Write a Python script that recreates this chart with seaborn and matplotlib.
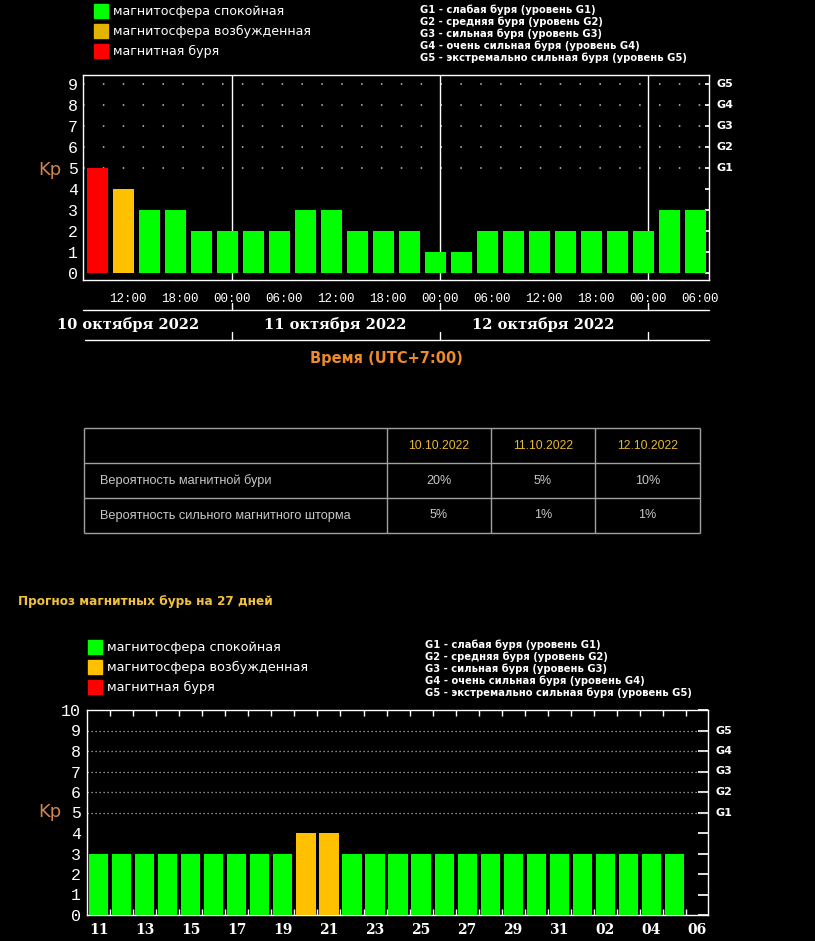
import numpy as np
import pandas as pd
import matplotlib.pyplot as plt
import matplotlib.transforms as mtransforms
from matplotlib.patches import Rectangle
import seaborn as sns

# 3-day Kp index, 3-hour slots (UTC+7)
top_days = ["10 октября 2022", "11 октября 2022", "12 октября 2022"]
top_times = ["09:00", "12:00", "15:00", "18:00", "21:00",
             "00:00", "03:00", "06:00", "09:00", "12:00", "15:00", "18:00", "21:00",
             "00:00", "03:00", "06:00", "09:00", "12:00", "15:00", "18:00", "21:00",
             "00:00", "03:00", "06:00"]
top_kp = [5, 4, 3, 3, 2, 2, 2, 2, 3, 3, 2, 2, 2, 1, 1, 2, 2, 2, 2, 2, 2, 2, 3, 3]

# 27-day forecast (no value for the last day)
fc_days = ["11", "12", "13", "14", "15", "16", "17", "18", "19", "20", "21",
           "22", "23", "24", "25", "26", "27", "28", "29", "30", "31",
           "01", "02", "03", "04", "05", "06"]
fc_kp = [3, 3, 3, 3, 3, 3, 3, 3, 3, 4, 4, 3, 3, 3, 3, 3, 3, 3, 3, 3, 3,
         3, 3, 3, 3, 3]

# probability table
prob_dates = ["10.10.2022", "11.10.2022", "12.10.2022"]
prob_rows = ["Вероятность магнитной бури", "Вероятность сильного магнитного шторма"]
prob_storm = ["20%", "5%", "10%"]
prob_severe = ["5%", "1%", "1%"]

legend_labels = ["магнитосфера спокойная", "магнитосфера возбужденная", "магнитная буря"]
g_levels = ["G1", "G2", "G3", "G4", "G5"]
g_desc = ["G1 - слабая буря (уровень G1)",
          "G2 - средняя буря (уровень G2)",
          "G3 - сильная буря (уровень G3)",
          "G4 - очень сильная буря (уровень G4)",
          "G5 - экстремально сильная буря (уровень G5)"]

palette = {"quiet": "#00ff00", "active": "#ffc000", "storm": "#ff0000"}


def kp_level(k):
    if k >= 5:
        return "storm"
    if k == 4:
        return "active"
    return "quiet"


sns.set_theme(style="dark", rc={
    "figure.facecolor": "black", "axes.facecolor": "black",
    "savefig.facecolor": "black", "axes.edgecolor": "white",
    "axes.grid": False, "text.color": "white",
    "xtick.color": "white", "ytick.color": "white",
})
plt.rcParams["font.family"] = ["DejaVu Sans"]

W, H = 815, 941
fig = plt.figure(figsize=(W / 100, H / 100), dpi=100)

# overlay in pixel coordinates for legends, table and captions
ov = fig.add_axes([0, 0, 1, 1])
ov.set_xlim(0, W)
ov.set_ylim(H, 0)
ov.axis("off")


def style_axes(ax):
    for sp in ax.spines.values():
        sp.set_color("white")
        sp.set_linewidth(1)
    ax.set_xlabel("")
    ax.set_ylabel("")


# ---------------- top chart: 3-day Kp ----------------
ax1 = fig.add_axes([83.3 / W, 1 - 280 / H, 626 / W, 205 / H])
df1 = pd.DataFrame({"slot": np.arange(len(top_kp)), "kp": top_kp})
df1["level"] = [kp_level(k) for k in top_kp]
sns.barplot(data=df1, x="slot", y="kp", hue="level", palette=palette,
            dodge=False, width=0.83, saturation=1, legend=False, ax=ax1,
            zorder=3, linewidth=0)
ax1.set_xlim(-0.546, 23.53)
ax1.set_ylim(-0.32, 9.44)
style_axes(ax1)

off = 0.16
xt = np.arange(len(top_times)) + off
ax1.set_xticks(xt[1::2])
ax1.set_xticklabels(top_times[1::2], fontfamily="Liberation Mono", fontsize=9)
ax1.set_xticks(xt[0::2], minor=True)
ax1.tick_params(axis="x", which="both", direction="out", length=4, width=1,
                color="white", labelcolor="white", pad=5)
ax1.set_yticks(range(10))
ax1.set_yticklabels([str(v) for v in range(10)], fontfamily="Liberation Mono", fontsize=12)
ax1.tick_params(axis="y", left=False, right=True, direction="in", length=3,
                color="white", labelcolor="white", pad=4)

for lvl in range(5, 10):
    ax1.axhline(lvl, color="#c8c8c8", lw=1.1, ls=(0, (1, 12)), zorder=0.8)

gtrans1 = mtransforms.blended_transform_factory(ax1.transAxes, ax1.transData)
for lvl, g in zip(range(5, 10), g_levels):
    ax1.text(1.011, lvl, g, transform=gtrans1, va="center", ha="left",
             color="white", fontsize=8, fontweight="bold")

day_idx = [i for i, t in enumerate(top_times) if t == "00:00"]
btrans = mtransforms.blended_transform_factory(ax1.transData, ax1.transAxes)
band1, band2 = -0.146, -0.293
for d in day_idx:
    ax1.axvline(d + off, color="white", lw=1, zorder=1)
    ax1.plot([d + off, d + off], [band1, band1 + 0.034], color="white", lw=1,
             transform=btrans, clip_on=False)
    ax1.plot([d + off, d + off], [band2, band2 + 0.039], color="white", lw=1,
             transform=btrans, clip_on=False)
ax1.plot([0, 1], [band1, band1], color="white", lw=1, transform=ax1.transAxes, clip_on=False)
ax1.plot([0.003, 1], [band2, band2], color="white", lw=1, transform=ax1.transAxes, clip_on=False)

day_centers = [day_idx[0] - 4, day_idx[0] + 4, day_idx[1] + 4]
for c, lab in zip(day_centers, top_days):
    ax1.text(c + off, -0.215, lab, transform=btrans, ha="center", va="center",
             color="white", fontsize=10.5, fontweight="bold", fontfamily="DejaVu Serif")

# ---------------- bottom chart: 27-day forecast ----------------
ax2 = fig.add_axes([86.7 / W, 1 - 915 / H, 621.6 / W, 205 / H])
df2 = pd.DataFrame({"day": fc_days[:len(fc_kp)], "kp": fc_kp})
df2["level"] = [kp_level(k) for k in fc_kp]
sns.barplot(data=df2, x="day", y="kp", hue="level", order=fc_days, palette=palette,
            dodge=False, width=0.83, saturation=1, legend=False, ax=ax2,
            zorder=3, linewidth=0)
ax2.set_xlim(-0.526, 26.48)
ax2.set_ylim(0, 10)
style_axes(ax2)

pos = np.arange(len(fc_days))
ax2.set_xticks(pos[0::2])
ax2.set_xticklabels(fc_days[0::2], fontfamily="DejaVu Serif", fontweight="bold", fontsize=10)
ax2.set_xticks(pos[:-1] + 0.5, minor=True)
ax2.tick_params(axis="x", which="major", length=0, labelcolor="white", pad=6)
ax2.tick_params(axis="x", which="minor", direction="in", top=True, bottom=True,
                length=4, width=1, color="white")
ax2.set_yticks(range(11))
ax2.set_yticklabels([str(v) for v in range(11)], fontfamily="Liberation Mono", fontsize=12)
ax2.tick_params(axis="y", left=False, right=True, direction="in", length=7,
                color="white", labelcolor="white", pad=4)

for lvl in range(5, 10):
    ax2.axhline(lvl, color="#bbbbbb", lw=0.9, ls=(0, (1, 2.2)), zorder=0.8)

gtrans2 = mtransforms.blended_transform_factory(ax2.transAxes, ax2.transData)
for lvl, g in zip(range(5, 10), g_levels):
    ax2.text(1.012, lvl, g, transform=gtrans2, va="center", ha="left",
             color="white", fontsize=8, fontweight="bold")

# ---------------- captions ----------------
ov.text(50, 170, "Kp", color="#d0864c", fontsize=13, ha="center", va="center")
ov.text(50, 812, "Kp", color="#d0864c", fontsize=13, ha="center", va="center")
ov.text(386, 358, "Время (UTC+7:00)", color="#ec8a2c", fontsize=10.5,
        fontweight="bold", ha="center", va="center")
ov.text(18, 602, "Прогноз магнитных бурь на 27 дней", color="#f0c040",
        fontsize=8.7, fontweight="bold", ha="left", va="center")


def draw_legend(x, y0, colors, size):
    for i, (lab, col) in enumerate(zip(legend_labels, colors)):
        yc = y0 + i * 20
        ov.add_patch(Rectangle((x, yc - 7), 14, 14, color=col))
        ov.text(x + 19, yc, lab, va="center", ha="left", color="white", fontsize=size)


def draw_glist(x, y0):
    for i, line in enumerate(g_desc):
        ov.text(x, y0 + i * 12, line, va="center", ha="left", color="white",
                fontsize=7.2, fontweight="bold")


draw_legend(94, 11, ["#00ff00", "#e0b400", "#ff0000"], 9.1)
draw_glist(420, 10)
draw_legend(88, 647, ["#00ff00", "#ffc000", "#ff0000"], 9.3)
draw_glist(425, 645)

# ---------------- probability table ----------------
col_x = [84, 387, 491, 595, 700]
row_y = [428, 463, 498, 533]
ov.hlines(row_y, col_x[0], col_x[-1], color="#a0a0a0", lw=1)
ov.vlines(col_x, row_y[0], row_y[-1], color="#a0a0a0", lw=1)
centers = [(col_x[i] + col_x[i + 1]) / 2 for i in range(1, 4)]
rmid = [(row_y[i] + row_y[i + 1]) / 2 for i in range(3)]
for cx, d in zip(centers, prob_dates):
    ov.text(cx, rmid[0], d, ha="center", va="center", color="#e8b830",
            fontsize=8.7, fontfamily="Liberation Sans")
for r, (lab, vals) in enumerate(zip(prob_rows, [prob_storm, prob_severe])):
    ov.text(100, rmid[r + 1], lab, ha="left", va="center", color="#c8c8c8",
            fontsize=9.2, fontfamily="Liberation Sans")
    for cx, v in zip(centers, vals):
        ov.text(cx, rmid[r + 1], v, ha="center", va="center", color="#c8c8c8",
                fontsize=9, fontfamily="Liberation Sans")

fig.savefig("out.png", dpi=100, facecolor="black")
